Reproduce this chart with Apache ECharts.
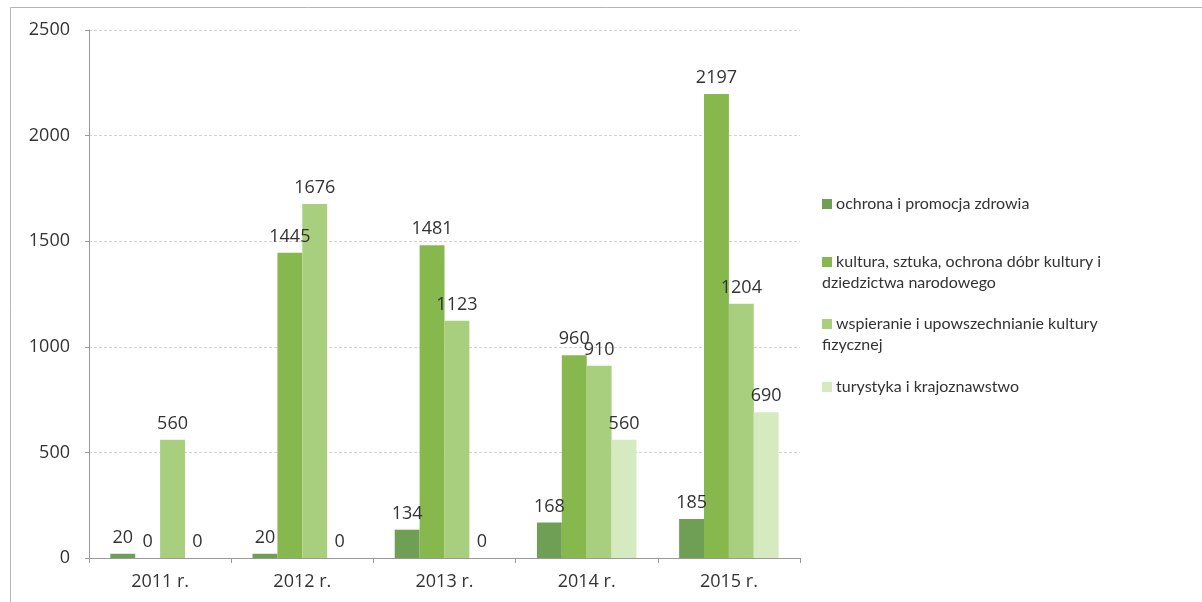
<!DOCTYPE html>
<html><head><meta charset="utf-8">
<script src="https://cdn.jsdelivr.net/npm/echarts@6/dist/echarts.min.js"></script>
<style>html,body{margin:0;padding:0;background:#fff}#c{width:1202px;height:602px}</style>
</head><body><div id="c"></div>
<script>
const categories = ['2011 r.', '2012 r.', '2013 r.', '2014 r.', '2015 r.'];
const seriesNames = [
  'ochrona i promocja zdrowia',
  'kultura, sztuka, ochrona dóbr kultury i\ndziedzictwa narodowego',
  'wspieranie i upowszechnianie kultury\nfizycznej',
  'turystyka i krajoznawstwo'
];
const zdrowie = [20, 20, 134, 168, 185];
const kultura = [0, 1445, 1481, 960, 2197];
const sport = [560, 1676, 1123, 910, 1204];
const turystyka = [0, 0, 0, 560, 690];
const yTicks = [0, 500, 1000, 1500, 2000, 2500];
const colors = ['#6f9e55', '#86b84e', '#a8cf7e', '#d6eac0'];
const values = [zdrowie, kultura, sport, turystyka];
const legendTops = [196, 254, 316, 379];

const chart = echarts.init(document.getElementById('c'));
const font = '"Open Sans", "DejaVu Sans", sans-serif';
const legFont = 'Lato, "Open Sans", sans-serif';

chart.setOption({
  animation: false,
  color: colors,
  graphic: [{
    type: 'rect', shape: {x: 10.5, y: 7.5, width: 1300, height: 700},
    style: {fill: 'none', stroke: '#b5b5b5', lineWidth: 1}
  }],
  legend: seriesNames.map((n, i) => ({
    data: [n],
    orient: 'vertical',
    left: 817, top: legendTops[i],
    padding: 0,
    icon: 'none',
    itemWidth: 0, itemHeight: 10,
    selectedMode: false,
    formatter: function (name) {
      const lines = name.split('\n');
      return '{sq| }{t| ' + lines[0] + '}' + (lines[1] ? '\n{t|' + lines[1] + '}' : '');
    },
    textStyle: {
      rich: {
        sq: {width: 10, height: 10, backgroundColor: colors[i], verticalAlign: 'middle'},
        t: {fontFamily: legFont, fontSize: 16, color: '#333', lineHeight: 21}
      }
    }
  })),
  grid: {left: 89, right: 402, top: 30, bottom: 44, containLabel: false},
  xAxis: {
    type: 'category', data: categories,
    axisLine: {show: true, lineStyle: {color: '#999'}},
    axisTick: {show: true, length: 5, lineStyle: {color: '#999'}},
    axisLabel: {fontFamily: font, fontSize: 18, color: '#333', margin: 15}
  },
  yAxis: {
    type: 'value', min: 0, max: 2500, interval: 500,
    axisLine: {show: true, lineStyle: {color: '#999'}},
    axisTick: {show: true, length: 4, lineStyle: {color: '#999'}},
    axisLabel: {fontFamily: font, fontSize: 18, color: '#333', margin: 19,
      formatter: v => yTicks.includes(v) ? String(v) : ''},
    splitLine: {show: true, lineStyle: {color: '#d2d2d2', type: [3, 2]}}
  },
  series: seriesNames.map((n, i) => ({
    name: n, type: 'bar', data: values[i],
    barGap: '0%', barCategoryGap: '30%',
    itemStyle: {color: colors[i]},
    label: {show: true, position: 'top', distance: 7,
      fontFamily: font, fontSize: 18, color: '#333'}
  }))
});
</script></body></html>
